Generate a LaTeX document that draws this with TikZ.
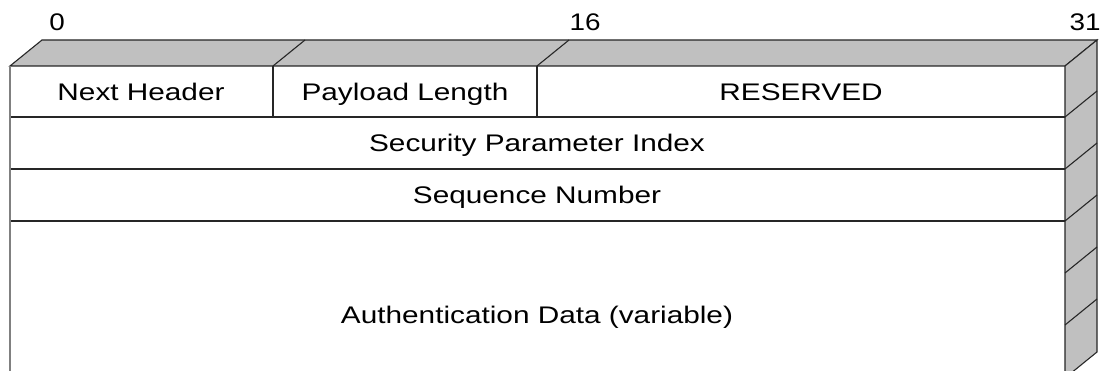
\documentclass[tikz,border=0pt]{standalone}
\usepackage{fontspec}
\setmainfont{Liberation Sans}
\definecolor{facegray}{HTML}{C0C0C0}
\definecolor{linedark}{HTML}{262626}
\definecolor{edgegray}{HTML}{808080}
\newcommand{\wide}[1]{\scalebox{1.24}[1]{#1}}
\begin{document}
\begin{tikzpicture}[x=1pt,y=-1pt,
  lbl/.style={inner sep=0pt,anchor=base,font=\fontsize{24}{28}\selectfont},
  edge/.style={draw=linedark,line width=1.1pt},
  face/.style={fill=facegray,draw=linedark,line width=1.1pt,line join=miter}]
\useasboundingbox (0,0) rectangle (1106,371);
\begin{scope}
\clip (0,0) rectangle (1106,371);
% front face
\fill[white] (10,66) rectangle (1065,380);
% top face
\path[face] (10,66) -- (42,40) -- (1097,40) -- (1065,66) -- cycle;
% right face
\path[face] (1065,66) -- (1097,40) -- (1097,352) -- (1065,378) -- cycle;
% slants on top face
\foreach \x in {273,537} \draw[edge] (\x,66) -- (\x+32,40);
% slants on right face
\foreach \y in {117,169,221,273,325} \draw[edge] (1065,\y) -- (1097,\y-26);
% row lines
\foreach \y in {117,169,221} \draw[edge] (10,\y) -- (1065,\y);
% field dividers
\foreach \x in {273,537} \draw[edge] (\x,66) -- (\x,117);
% left edge
\draw[edgegray,line width=2pt] (10,66) -- (10,380);
\end{scope}
% bit labels
\node[lbl] (b0) at (57,31) {\scalebox{1.16}[1]{0}};
\node[lbl] (b16) at (585,31) {\scalebox{1.16}[1]{16}};
\node[lbl] (b31) at (1085,31) {\scalebox{1.16}[1]{31}};
% fields
\node[lbl] (nh) at (141,100.5) {\wide{Next Header}};
\node[lbl] (pl) at (405,100.5) {\wide{Payload Length}};
\node[lbl] (rs) at (801,100.5) {\wide{RESERVED}};
\node[lbl] (spi) at (537,152) {\wide{Security Parameter Index}};
\node[lbl] (sn) at (537,204) {\wide{Sequence Number}};
\node[lbl] (ad) at (537,324) {\wide{Authentication Data (variable)}};
\end{tikzpicture}
\end{document}
